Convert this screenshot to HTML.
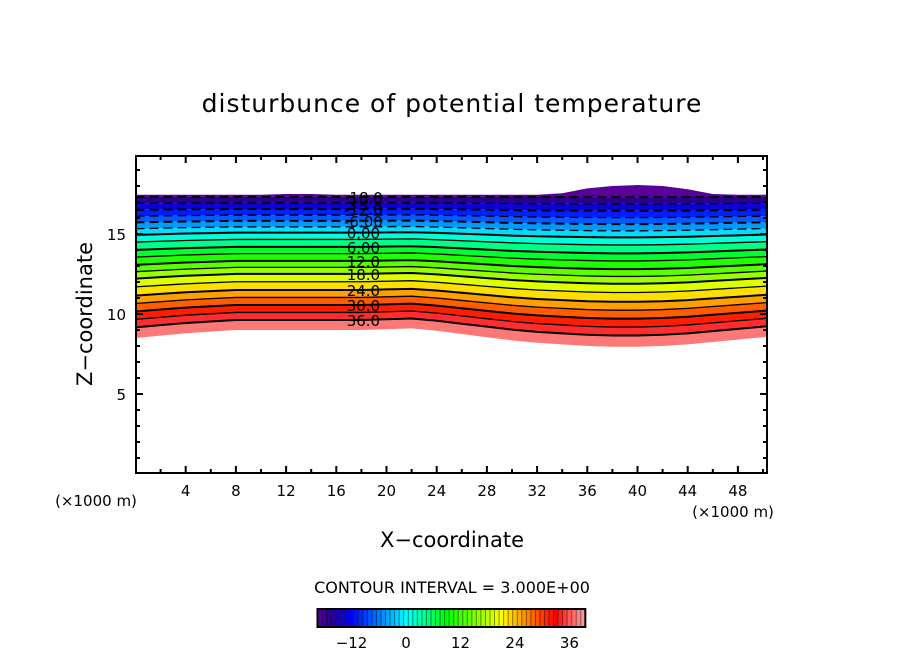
<!DOCTYPE html>
<html><head><meta charset="utf-8"><style>
body{margin:0;background:#fff;}
svg{display:block;font-family:"DejaVu Sans","Liberation Sans",sans-serif;}
</style></head><body>
<svg id="chart" width="904" height="654" viewBox="0 0 904 654" xmlns="http://www.w3.org/2000/svg">
<rect width="904" height="654" fill="#fff"/>
<text x="452" y="112" font-size="25" text-anchor="middle" letter-spacing="1">disturbunce of potential temperature</text>
<g id="field"></g>
<g id="lines"></g>
<g id="labels"></g>
<rect x="136" y="156" width="631" height="317" fill="none" stroke="#000" stroke-width="2"/>
<g id="ticks"></g>
<text x="452" y="547" font-size="21" text-anchor="middle">X−coordinate</text>
<text x="0" y="0" font-size="21" text-anchor="middle" transform="translate(92,314) rotate(-90)">Z−coordinate</text>
<text x="96" y="506" font-size="15" text-anchor="middle">(×1000 m)</text>
<text x="733" y="517" font-size="15" text-anchor="middle">(×1000 m)</text>
<text x="452" y="593" font-size="16" text-anchor="middle">CONTOUR INTERVAL = 3.000E+00</text>
<g id="cbar"></g>
</svg>
<script>
const xs = [0,2,4,6,8,10,12,14,16,18,20,22,24,26,28,30,32,34,36,38,40,42,44,46,48,50,50.3];
const zBottom = [8.5,8.65,8.8,8.9,9.0,9.0,9.0,9.0,9.0,9.0,9.05,9.1,8.95,8.75,8.55,8.35,8.2,8.1,8.0,7.95,7.95,8.0,8.1,8.25,8.4,8.55,8.58];
const zTopFill = [17.45,17.45,17.45,17.45,17.45,17.45,17.5,17.5,17.45,17.45,17.45,17.45,17.45,17.45,17.45,17.45,17.45,17.55,17.85,18.0,18.06,18.0,17.8,17.5,17.45,17.45,17.45];
const zTop = 17.45;
const levels = [-18,-15,-12,-9,-6,-3,0,3,6,9,12,15,18,21,24,27,30,33,36,39];
const refFrac = [0.985,0.94,0.895,0.85,0.807,0.763,0.72,0.67,0.615,0.565,0.511,0.463,0.415,0.357,0.296,0.241,0.185,0.13,0.074,0.0];
const labelLevels = [-18,-12,-6,0,6,12,18,24,30,36];
const cbTicks = [-12,0,12,24,36];

const X = v => 135.5 + v*12.55;
const Y = v => 474 - v*16;
const ns = "http://www.w3.org/2000/svg";
function mk(tag, attrs, parent){const e=document.createElementNS(ns,tag);for(const k in attrs)e.setAttribute(k,attrs[k]);parent.appendChild(e);return e;}

const stops=[[-21,[112,0,160]],[-16.5,[40,0,140]],[-12,[0,0,255]],[-6,[0,120,255]],[0,[0,255,255]],[4,[0,255,150]],[9,[0,255,0]],[15,[120,255,0]],[21,[255,255,0]],[25,[255,170,0]],[30,[255,60,0]],[33,[255,0,0]],[36,[255,90,90]],[40,[255,170,170]]];
function col(v){for(let i=0;i<stops.length-1;i++){const [a,ca]=stops[i],[b,cb]=stops[i+1];if(v<=b){const t=Math.max(0,(v-a)/(b-a));return `rgb(${ca.map((c,j)=>Math.round(c+(cb[j]-c)*t)).join(',')})`;}}return 'rgb(255,170,170)';}

function levelZ(idx,i){return zBottom[i]+refFrac[idx]*(zTop-zBottom[i]);}
function curve(idx){return xs.map((x,i)=>[X(x),Y(levelZ(idx,i))]);}
const field=document.getElementById('field');
// bands
for(let k=0;k<levels.length-1;k++){
  const lo=curve(k+1), hi=curve(k);
  const pts=hi.concat(lo.slice().reverse()).map(p=>p.join(',')).join(' ');
  const p=mk('polygon',{points:pts,fill:col((levels[k]+levels[k+1])/2)},field);
  
  
}
// top band
{
  const top=xs.map((x,i)=>[X(x),Y(zTopFill[i])]);
  const lo=curve(0);
  const pts=top.concat(lo.slice().reverse()).map(p=>p.join(',')).join(' ');
  const p=mk('polygon',{points:pts,fill:col(-19.5)},field);
  
  
}
// lines
const lines=document.getElementById('lines');
for(let k=0;k<levels.length-1;k++){
  const pts=curve(k).map(p=>p.join(',')).join(' ');
  const a={points:pts,fill:'none',stroke:'#000','stroke-width':levels[k]%6===0?2:1.3};
  if(levels[k]<0)a['stroke-dasharray']='9,5';
  const l=mk('polyline',a,lines);
  
  
}
// labels
const labs=document.getElementById('labels');
const lx=18.0, li=9;
labelLevels.forEach(v=>{
  const idx=levels.indexOf(v);
  const y=Y(levelZ(idx,li));
  mk('rect',{x:X(lx)-20,y:y-6,width:42,height:12,fill:'none'},labs);
  const t=mk('text',{x:X(lx)+2,y:y+6,'font-size':15,'text-anchor':'middle',fill:'#000'},labs);
  t.textContent = Math.abs(v)<10 ? (v<0?'-':'')+Math.abs(v).toFixed(2) : (v<0?'-':'')+Math.abs(v).toFixed(1);
  
  
});
// ticks
const tk=document.getElementById('ticks');
for(let v=2;v<=50;v+=2){
  const len=v%4===0?7:4;
  mk('line',{x1:X(v),x2:X(v),y1:473,y2:473-len,stroke:'#000','stroke-width':2},tk);
  mk('line',{x1:X(v),x2:X(v),y1:156,y2:156+len,stroke:'#000','stroke-width':2},tk);
  if(v%4===0){const t=mk('text',{x:X(v),y:496,'font-size':15,'text-anchor':'middle'},tk);t.textContent=v;
    }
}
for(let v=1;v<=19;v++){
  const len=v%5===0?7:4;
  mk('line',{x1:136,x2:136+len,y1:Y(v),y2:Y(v),stroke:'#000','stroke-width':2},tk);
  mk('line',{x1:767,x2:767-len,y1:Y(v),y2:Y(v),stroke:'#000','stroke-width':2},tk);
  if(v%5===0){const t=mk('text',{x:126,y:Y(v)+6,'font-size':15,'text-anchor':'end'},tk);t.textContent=v;
    }
}
// colorbar
const cb=document.getElementById('cbar');
const CX=v=>406+v*4.54;
for(let v=-19.5;v<39.5;v+=1){
  const r=mk('rect',{x:CX(v),y:609,width:4.6,height:18,fill:col(v+0.5)},cb);
  
  
  if(Math.round(v*2)%2!==0) mk('line',{x1:CX(v),x2:CX(v),y1:609,y2:627,stroke:'rgba(0,0,0,0.45)','stroke-width':1},cb);
}
mk('rect',{x:CX(-19.5),y:609,width:CX(39.5)-CX(-19.5),height:18,fill:'none',stroke:'#000','stroke-width':2},cb);
cbTicks.forEach(v=>{const t=mk('text',{x:CX(v),y:648,'font-size':15,'text-anchor':'middle'},cb);t.textContent=v<0?'−'+(-v):v;
  });
</script>
</body></html>
